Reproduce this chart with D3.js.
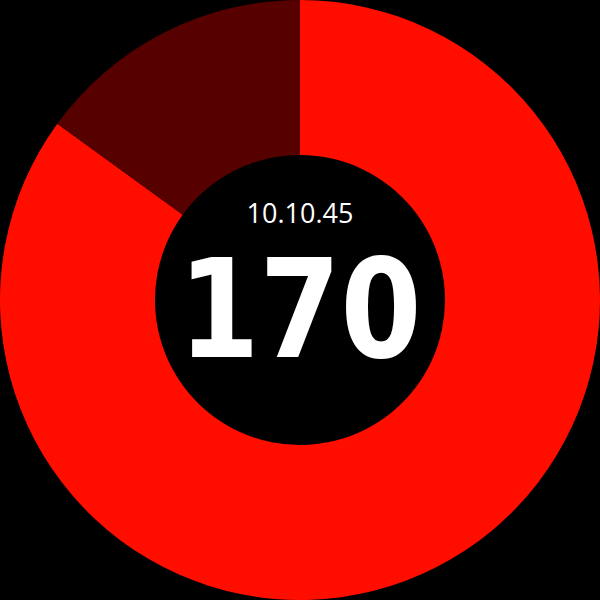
<!DOCTYPE html>
<meta charset="utf-8">
<style>
body{ margin:0; background:#000; }
svg{ display:block; }
</style>
<body>
<div id="chart"></div>
<script src="https://d3js.org/d3.v7.min.js"></script>
<script>
  var segments = ["elapsed", "remaining"];
  var values = [85, 15];
  var colors = ["#ff0e00", "#560000"];
  var timeLabel = "10.10.45";
  var countLabel = "170";

  var width = 600, height = 600,
      outer = 300, inner = 145;

  var svg = d3.select("#chart").append("svg")
      .attr("width", width)
      .attr("height", height)
    .append("g")
      .attr("transform", "translate(" + width / 2 + "," + height / 2 + ")");

  var color = d3.scaleOrdinal().domain(segments).range(colors);

  var pie = d3.pie().sort(null).value(function(d){ return d.value; });
  var arc = d3.arc().innerRadius(inner).outerRadius(outer);

  var data = segments.map(function(k, i){ return {key: k, value: values[i]}; });

  svg.selectAll("path")
      .data(pie(data))
    .enter().append("path")
      .attr("d", arc)
      .attr("fill", function(d){ return color(d.data.key); });

  // small time label above the count
  svg.append("text")
      .attr("text-anchor", "middle")
      .attr("y", -77)
      .attr("fill", "#fff")
      .style("font-family", "'Open Sans', sans-serif")
      .style("font-size", "27px")
      .text(timeLabel);

  svg.append("text")
      .attr("text-anchor", "middle")
      .attr("y", 57)
      .attr("fill", "#fff")
      .attr("textLength", 243)
      .attr("lengthAdjust", "spacingAndGlyphs")
      .style("font-family", "'DejaVu Sans'")
      .style("font-stretch", "condensed")
      .style("font-weight", "bold")
      .style("font-size", "138px")
      .text(countLabel);
</script>
</body>
